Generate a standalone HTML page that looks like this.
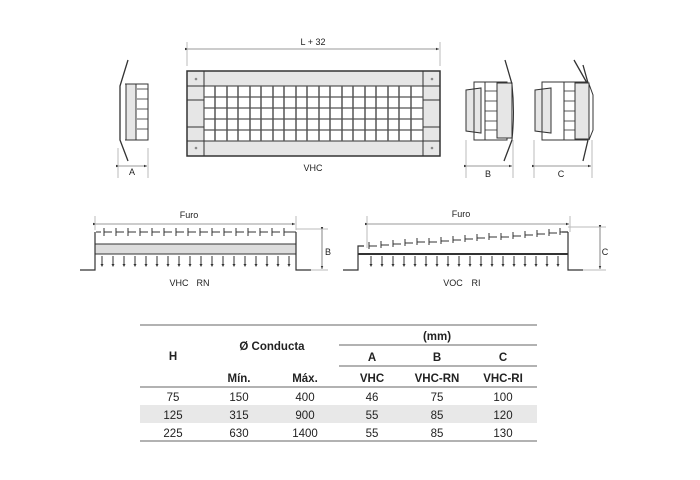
<!DOCTYPE html>
<html><head><style>body{margin:0;background:#fff}svg{display:block}text{font-family:"Liberation Sans",sans-serif;font-size:9px;fill:#222}text.t{font-size:11.5px}text.b{font-size:11.5px;font-weight:bold}</style></head><body>
<svg width="700" height="480" viewBox="0 0 700 480">
<defs><marker id="a" markerWidth="6" markerHeight="6" refX="5" refY="3" orient="auto"><path d="M0,1 L5,3 L0,5z" fill="#333"/></marker></defs>
<g stroke="#333" fill="none" stroke-width="1">
<line x1="187" y1="42" x2="187" y2="66" stroke="#bbb"/><line x1="440" y1="42" x2="440" y2="66" stroke="#bbb"/>
<line x1="188" y1="49" x2="439" y2="49" marker-end="url(#a)" marker-start="url(#a)" stroke-width=".6"/>
<rect x="187" y="71" width="253" height="85" fill="#e6e6e6" stroke-width="1.5"/>
<rect x="204" y="86" width="219" height="55" fill="#fff"/>
<line x1="204" y1="71" x2="204" y2="156"/><line x1="423" y1="71" x2="423" y2="156"/>
<line x1="187" y1="86" x2="204" y2="86"/><line x1="187" y1="141" x2="204" y2="141"/>
<line x1="423" y1="86" x2="440" y2="86"/><line x1="423" y1="141" x2="440" y2="141"/>
<line x1="187" y1="100" x2="204" y2="100"/><line x1="187" y1="127" x2="204" y2="127"/>
<line x1="423" y1="100" x2="440" y2="100"/><line x1="423" y1="127" x2="440" y2="127"/>
<g stroke="#555" stroke-width="1.2">
<line x1="204" y1="97" x2="423" y2="97"/><line x1="204" y1="108" x2="423" y2="108"/><line x1="204" y1="119" x2="423" y2="119"/><line x1="204" y1="130" x2="423" y2="130"/>
</g>
<circle cx="196" cy="79" r="1.3" fill="#888" stroke="none"/><circle cx="432" cy="79" r="1.3" fill="#888" stroke="none"/>
<circle cx="196" cy="148" r="1.3" fill="#888" stroke="none"/><circle cx="432" cy="148" r="1.3" fill="#888" stroke="none"/>
<path d="M128,60 L120,86 L120,140 L128,161" stroke-width="1.3"/>
<path d="M125,84 L148,84 L148,140 L125,140" />
<rect x="126" y="84" width="10" height="56" fill="#e6e6e6"/>
<g stroke-width=".8"><line x1="137" y1="89" x2="148" y2="89"/><line x1="137" y1="99" x2="148" y2="99"/><line x1="137" y1="109" x2="148" y2="109"/><line x1="137" y1="119" x2="148" y2="119"/><line x1="137" y1="129" x2="148" y2="129"/></g>
<line x1="118" y1="148" x2="118" y2="178" stroke="#bbb"/><line x1="148" y1="148" x2="148" y2="178" stroke="#bbb"/>
<line x1="119" y1="166" x2="147" y2="166" stroke-width=".6" marker-end="url(#a)" marker-start="url(#a)"/>
<path d="M466,90 L481,88 L481,133 L466,131z" fill="#e6e6e6"/>
<rect x="474" y="82" width="33" height="58"/><line x1="485" y1="82" x2="485" y2="140"/>
<rect x="497" y="83" width="15" height="55" fill="#e6e6e6"/>
<path d="M505,60 L512,84 M512,140 L504,161" stroke-width="1.3"/><path d="M512,84 Q515,112 512,140"/>
<g stroke-width=".8"><line x1="485" y1="91" x2="497" y2="91"/><line x1="485" y1="101" x2="497" y2="101"/><line x1="485" y1="111" x2="497" y2="111"/><line x1="485" y1="121" x2="497" y2="121"/><line x1="485" y1="130" x2="497" y2="130"/></g>
<line x1="466" y1="140" x2="466" y2="178" stroke="#bbb"/><line x1="513" y1="140" x2="513" y2="178" stroke="#bbb"/>
<line x1="467" y1="166" x2="512" y2="166" stroke-width=".6" marker-end="url(#a)" marker-start="url(#a)"/>
<path d="M535,90 L551,88 L551,133 L535,131z" fill="#e6e6e6"/>
<rect x="542" y="82" width="46" height="58"/><line x1="564" y1="82" x2="564" y2="140"/>
<rect x="575" y="83" width="14" height="56" fill="#e6e6e6"/>
<path d="M574,60 L587,83 M583,65 L588,83 M588,140 L583,161" stroke-width="1.3"/><path d="M589,84 L593,95 L593,130 L589,140"/>
<g stroke-width=".8"><line x1="564" y1="91" x2="575" y2="91"/><line x1="564" y1="101" x2="575" y2="101"/><line x1="564" y1="111" x2="575" y2="111"/><line x1="564" y1="121" x2="575" y2="121"/><line x1="564" y1="130" x2="575" y2="130"/></g>
<line x1="534" y1="140" x2="534" y2="178" stroke="#bbb"/><line x1="592" y1="140" x2="592" y2="178" stroke="#bbb"/>
<line x1="535" y1="166" x2="591" y2="166" stroke-width=".6" marker-end="url(#a)" marker-start="url(#a)"/>
<line x1="95" y1="216" x2="95" y2="230" stroke="#bbb"/><line x1="296" y1="216" x2="296" y2="230" stroke="#bbb"/>
<line x1="96" y1="224" x2="295" y2="224" stroke-width=".6" marker-end="url(#a)" marker-start="url(#a)"/>
<rect x="95" y="244" width="201" height="10" fill="#ddd"/>
<path d="M80,270 L95,270 L95,232 M296,232 L296,270 L311,270" stroke-width="1.2"/>
<path d="M96,232 L101,232" /><path d="M290,232 L296,232"/>
<line x1="296" y1="229" x2="328" y2="229" stroke="#bbb"/><line x1="311" y1="270" x2="328" y2="270" stroke="#bbb"/>
<line x1="322" y1="230" x2="322" y2="269" stroke-width=".6" marker-end="url(#a)" marker-start="url(#a)"/>
<line x1="367" y1="216" x2="367" y2="248" stroke="#bbb"/><line x1="570" y1="216" x2="570" y2="232" stroke="#bbb"/>
<line x1="368" y1="224" x2="569" y2="224" stroke-width=".6" marker-end="url(#a)" marker-start="url(#a)"/>
<line x1="358" y1="254" x2="568" y2="254" stroke-width="2"/>
<path d="M343,270 L358,270 L358,246 L364,246 M568,232 L568,270 L583,270 M562,232 L568,232" stroke-width="1.2"/>
<line x1="568" y1="227" x2="606" y2="227" stroke="#bbb"/><line x1="583" y1="270" x2="606" y2="270" stroke="#bbb"/>
<line x1="600" y1="228" x2="600" y2="269" stroke-width=".6" marker-end="url(#a)" marker-start="url(#a)"/>
<rect x="140" y="405" width="397" height="18" fill="#e8e8e8" stroke="none"/>
<g stroke="#666" stroke-width="1"><line x1="140" y1="325" x2="537" y2="325"/><line x1="339" y1="345" x2="537" y2="345"/><line x1="339" y1="366" x2="537" y2="366"/><line x1="140" y1="387" x2="537" y2="387"/><line x1="140" y1="441" x2="537" y2="441"/></g>
</g>
<g text-anchor="middle">
<text x="313" y="45">L + 32</text><text x="313" y="171">VHC</text>
<text x="132" y="175">A</text><text x="488" y="177">B</text><text x="561" y="177">C</text>
<text x="189" y="218">Furo</text><text x="461" y="217">Furo</text>
<text x="328" y="255">B</text><text x="605" y="255">C</text>
<text x="179" y="286">VHC</text><text x="203" y="286">RN</text>
<text x="453" y="286">VOC</text><text x="476" y="286">RI</text>
<text class="b" x="173" y="360">H</text><text class="b" x="272" y="350">Ø Conducta</text>
<text class="b" x="437" y="340">(mm)</text>
<text class="b" x="372" y="361">A</text><text class="b" x="437" y="361">B</text><text class="b" x="503" y="361">C</text>
<text class="b" x="239" y="382">Mín.</text><text class="b" x="305" y="382">Máx.</text>
<text class="b" x="372" y="382">VHC</text><text class="b" x="437" y="382">VHC-RN</text><text class="b" x="503" y="382">VHC-RI</text>
<text class="t" x="173" y="401">75</text><text class="t" x="239" y="401">150</text><text class="t" x="305" y="401">400</text><text class="t" x="372" y="401">46</text><text class="t" x="437" y="401">75</text><text class="t" x="503" y="401">100</text>
<text class="t" x="173" y="419">125</text><text class="t" x="239" y="419">315</text><text class="t" x="305" y="419">900</text><text class="t" x="372" y="419">55</text><text class="t" x="437" y="419">85</text><text class="t" x="503" y="419">120</text>
<text class="t" x="173" y="437">225</text><text class="t" x="239" y="437">630</text><text class="t" x="305" y="437">1400</text><text class="t" x="372" y="437">55</text><text class="t" x="437" y="437">85</text><text class="t" x="503" y="437">130</text>
</g>
<g stroke="#555" stroke-width="1.5">
<line x1="215" y1="86" x2="215" y2="141"/><line x1="227" y1="86" x2="227" y2="141"/><line x1="238" y1="86" x2="238" y2="141"/><line x1="250" y1="86" x2="250" y2="141"/><line x1="261" y1="86" x2="261" y2="141"/><line x1="273" y1="86" x2="273" y2="141"/><line x1="284" y1="86" x2="284" y2="141"/><line x1="296" y1="86" x2="296" y2="141"/><line x1="307" y1="86" x2="307" y2="141"/><line x1="319" y1="86" x2="319" y2="141"/><line x1="330" y1="86" x2="330" y2="141"/><line x1="342" y1="86" x2="342" y2="141"/><line x1="353" y1="86" x2="353" y2="141"/><line x1="365" y1="86" x2="365" y2="141"/><line x1="376" y1="86" x2="376" y2="141"/><line x1="388" y1="86" x2="388" y2="141"/><line x1="399" y1="86" x2="399" y2="141"/><line x1="411" y1="86" x2="411" y2="141"/>
</g>
<g stroke="#333" stroke-width="1" fill="none">
<path d="M104,232h8M104,228v8M116,232h8M116,228v8M128,232h8M128,228v8M140,232h8M140,228v8M152,232h8M152,228v8M164,232h8M164,228v8M176,232h8M176,228v8M188,232h8M188,228v8M200,232h8M200,228v8M212,232h8M212,228v8M224,232h8M224,228v8M236,232h8M236,228v8M248,232h8M248,228v8M260,232h8M260,228v8M272,232h8M272,228v8M284,232h6M284,228v8"/>
<path d="M102,256v9M113,256v9M124,256v9M135,256v9M146,256v9M157,256v9M168,256v9M179,256v9M190,256v9M201,256v9M212,256v9M223,256v9M234,256v9M245,256v9M256,256v9M267,256v9M278,256v9M289,256v9"/>
<path d="M371,256v9M382,256v9M393,256v9M404,256v9M415,256v9M426,256v9M437,256v9M448,256v9M459,256v9M470,256v9M481,256v9M492,256v9M503,256v9M514,256v9M525,256v9M536,256v9M547,256v9M558,256v9"/>
<path d="M369,246h8M369,242v7M381,245h8M381,241v7M393,244h8M393,240v7M405,243h8M405,239v7M417,242h8M417,238v7M429,242h8M429,238v7M441,241h8M441,237v7M453,240h8M453,236v7M465,239h8M465,235v7M477,238h8M477,234v7M489,237h8M489,233v7M501,237h8M501,233v7M513,236h8M513,232v7M525,235h8M525,231v7M537,234h8M537,230v7M549,233h8M549,229v7M560,232h2M560,228v7"/>
</g>
<g fill="#333">
<path d="M100.5,264h3l-1.5,3zM111.5,264h3l-1.5,3zM122.5,264h3l-1.5,3zM133.5,264h3l-1.5,3zM144.5,264h3l-1.5,3zM155.5,264h3l-1.5,3zM166.5,264h3l-1.5,3zM177.5,264h3l-1.5,3zM188.5,264h3l-1.5,3zM199.5,264h3l-1.5,3zM210.5,264h3l-1.5,3zM221.5,264h3l-1.5,3zM232.5,264h3l-1.5,3zM243.5,264h3l-1.5,3zM254.5,264h3l-1.5,3zM265.5,264h3l-1.5,3zM276.5,264h3l-1.5,3zM287.5,264h3l-1.5,3z"/>
<path d="M369.5,264h3l-1.5,3zM380.5,264h3l-1.5,3zM391.5,264h3l-1.5,3zM402.5,264h3l-1.5,3zM413.5,264h3l-1.5,3zM424.5,264h3l-1.5,3zM435.5,264h3l-1.5,3zM446.5,264h3l-1.5,3zM457.5,264h3l-1.5,3zM468.5,264h3l-1.5,3zM479.5,264h3l-1.5,3zM490.5,264h3l-1.5,3zM501.5,264h3l-1.5,3zM512.5,264h3l-1.5,3zM523.5,264h3l-1.5,3zM534.5,264h3l-1.5,3zM545.5,264h3l-1.5,3zM556.5,264h3l-1.5,3z"/>
</g>
</svg>
</body></html>
